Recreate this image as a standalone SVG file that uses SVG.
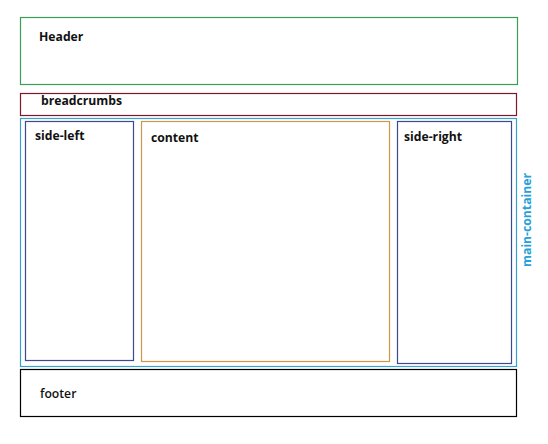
<svg xmlns="http://www.w3.org/2000/svg" width="548" height="444" viewBox="0 0 548 444">
<style>
rect{fill:none;stroke-width:1.2}
text{font-family:"Open Sans","Liberation Sans",sans-serif;font-size:12.2px;font-weight:bold;fill:#111}
</style>
<rect x="0" y="0" width="548" height="444" fill="#fff" style="fill:#fff;stroke:none"/>
<g id="header"><rect x="20.5" y="17.5" width="497" height="67" stroke="#3a9e56"/><text x="39" y="41">Header</text></g>
<g id="breadcrumbs"><rect x="20.5" y="93.5" width="496" height="22" stroke="#7a1a2a"/><text x="41" y="105">breadcrumbs</text></g>
<g id="main-container"><rect x="20.5" y="118.5" width="496" height="248" stroke="#39a0cf"/><text transform="translate(531,220) rotate(-90)" text-anchor="middle" style="fill:#25a0da">main-container</text></g>
<g id="side-left"><rect x="25.5" y="121.5" width="108" height="239" stroke="#3d4a8c"/><text x="35" y="140">side-left</text></g>
<g id="content"><rect x="141.5" y="121.5" width="248" height="240" stroke="#cf9646"/><text x="151" y="142">content</text></g>
<g id="side-right"><rect x="397.5" y="121.5" width="114" height="242" stroke="#3d4a8c"/><text x="404" y="141">side-right</text></g>
<g id="footer"><rect x="20.5" y="369.5" width="496" height="47" stroke="#000"/><text x="40" y="398" style="font-weight:600">footer</text></g>
<g id="connectors"/>
</svg>
